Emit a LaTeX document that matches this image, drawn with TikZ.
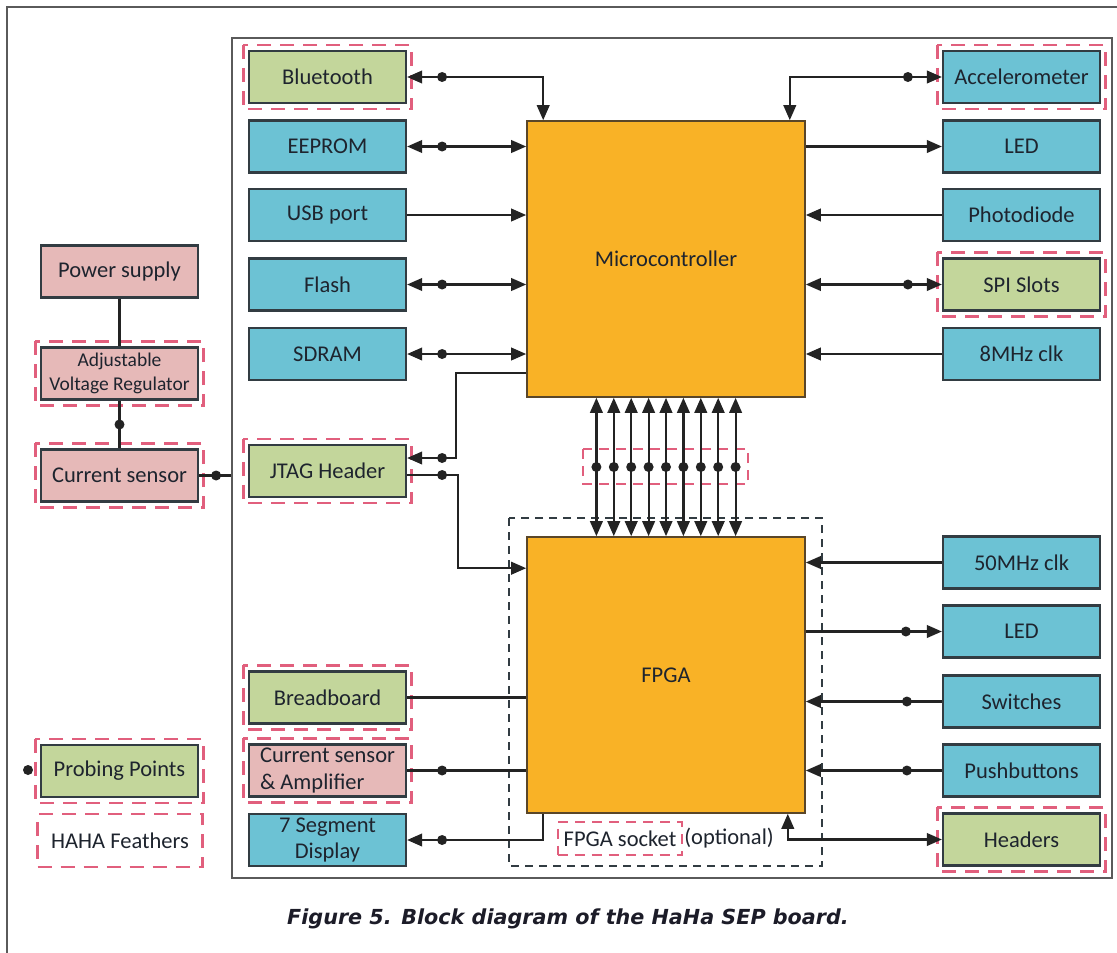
\documentclass[tikz,border=0pt]{standalone}
\usepackage{fontspec}
\setmainfont{Carlito}
\newfontfamily\capfont{DejaVu Sans}
\usetikzlibrary{arrows.meta,calc}
\definecolor{bluef}{RGB}{108,194,212}
\definecolor{greenf}{RGB}{195,214,155}
\definecolor{pinkf}{RGB}{230,185,184}
\definecolor{orangef}{RGB}{249,178,38}
\definecolor{boxline}{RGB}{50,60,66}
\definecolor{chipline}{RGB}{90,70,40}
\definecolor{pinkd}{RGB}{225,95,125}
\definecolor{txt}{RGB}{30,36,46}
\definecolor{lnc}{RGB}{35,35,35}
\definecolor{frame}{RGB}{90,90,90}
\definecolor{capc}{RGB}{28,28,40}
\begin{document}
\begin{tikzpicture}[x=1pt,y=-1pt,
  >={Triangle[length=15pt,width=12.5pt]},
  box/.style={draw=boxline, line width=2.2pt, minimum width=157pt, minimum height=52pt,
    inner sep=1pt, align=center, text=txt, font=\fontsize{22.5}{26}\selectfont},
  bbox/.style={box, fill=bluef},
  gbox/.style={box, fill=greenf},
  pbox/.style={box, fill=pinkf},
  chip/.style={draw=chipline, line width=1.6pt, fill=orangef, minimum width=278pt,
    minimum height=276pt, text=txt, font=\fontsize{22.5}{26}\selectfont},
  conn/.style={draw=lnc, line width=2.2pt},
  dotr/.style={fill=lnc},
  pinkdash/.style={draw=pinkd, line width=2.3pt, dash pattern=on 14pt off 9pt},
  sockdash/.style={draw=boxline, line width=1.6pt, dash pattern=on 8pt off 6pt}]
\useasboundingbox (0,0) rectangle (1117,953);
\fill[white] (0,0) rectangle (1117,953);
% outer frame
\draw[frame, line width=1.5pt] (7,953) -- (7,7) -- (1117,7);
% board
\node[draw=frame, line width=2pt, minimum width=880pt, minimum height=840pt] (board) at (672,458) {};
% FPGA socket region
\draw[sockdash] (509,518) rectangle (822,866);
% bus pink region
\draw[pinkdash, line width=1.8pt, dash pattern=on 10pt off 7pt] (583,449) rectangle (748,484);

% chips
\node[chip] (mc) at (666,259) {Microcontroller};
\node[chip] (fp) at (666,675) {FPGA};

% left column
\node[gbox] (bt)  at (327.5,77)    {Bluetooth};
\node[bbox] (ee)  at (327.5,146.5) {EEPROM};
\node[bbox] (usb) at (327.5,215)   {USB port};
\node[bbox] (fl)  at (327.5,284.5) {Flash};
\node[bbox] (sd)  at (327.5,354)   {SDRAM};
\node[gbox] (jt)  at (327.5,471)   {JTAG Header};
\node[gbox] (bb)  at (327.5,697.5) {Breadboard};
\node[pbox, align=left, font=\fontsize{22.5}{26.5}\selectfont] (csa) at (327.5,770.5) {Current sensor\\\& Amplifier};
\node[bbox, font=\fontsize{22.5}{26.5}\selectfont] (seg) at (327.5,840) {7 Segment\\Display};

% right column
\node[bbox] (acc)   at (1021.5,77)    {Accelerometer};
\node[bbox] (led1)  at (1021.5,146.5) {LED};
\node[bbox] (pd)    at (1021.5,215)   {Photodiode};
\node[gbox] (spi)   at (1021.5,284.5) {SPI Slots};
\node[bbox] (clk8)  at (1021.5,354)   {8MHz clk};
\node[bbox] (clk50) at (1021.5,562.5) {50MHz clk};
\node[bbox] (led2)  at (1021.5,631.5) {LED};
\node[bbox] (sw)    at (1021.5,701.5) {Switches};
\node[bbox] (pb)    at (1021.5,770.5) {Pushbuttons};
\node[gbox] (hd)    at (1021.5,839.5) {Headers};

% legend / power column
\node[pbox] (ps)  at (119.5,271.5) {Power supply};
\node[pbox, font=\fontsize{19.5}{24}\selectfont] (avr) at (119.5,373.5) {Adjustable\\Voltage Regulator};
\node[pbox] (csl) at (119.5,475.5) {Current sensor};
\node[gbox] (pp)  at (119.5,771)   {Probing Points};
\node[pinkdash, minimum width=165pt, minimum height=53pt, text=txt,
      font=\fontsize{22.5}{26}\selectfont] (hf) at (120,840.5) {HAHA Feathers};
\fill[dotr] (28,770) circle (5pt);

% pink dashed surrounds
\foreach \n in {bt,acc,spi,jt,bb,csa,hd,avr,csl,pp}
  \draw[pinkdash] ([shift={(-4.5,-5)}]\n.north west) rectangle ([shift={(4.5,5)}]\n.south east);

% FPGA socket label
\node[draw=pinkd, line width=1.8pt, dash pattern=on 10pt off 7pt, text=txt,
      font=\fontsize{22.5}{26}\selectfont, minimum height=33pt, inner xsep=6pt] (sock) at (620,838.5) {FPGA socket};
\node[text=txt, font=\fontsize{22.5}{26}\selectfont, anchor=west, inner xsep=1pt] (opt) at (sock.east) {(optional)};

% microcontroller left connections
\draw[conn,<->] (bt.east) -| ([xshift=17pt]mc.north west);
\fill[dotr] ([xshift=35pt]bt.east) circle (5pt);
\draw[conn,<->] (ee.east) -- (ee.east -| mc.west);
\fill[dotr] ([xshift=35pt]ee.east) circle (5pt);
\draw[conn,->] (usb.east) -- (usb.east -| mc.west);
\draw[conn,<->] (fl.east) -- (fl.east -| mc.west);
\fill[dotr] ([xshift=35pt]fl.east) circle (5pt);
\draw[conn,<->] (sd.east) -- (sd.east -| mc.west);
\fill[dotr] ([xshift=35pt]sd.east) circle (5pt);

% JTAG
\draw[conn,->] ([yshift=25pt]mc.south west) -- ++(-70,0) |- ([yshift=13pt]jt.east);
\fill[dotr] ([xshift=35pt,yshift=13pt]jt.east) circle (5pt);
\draw[conn,->] ([yshift=-4pt]jt.east) -- ++(51,0) |- ([yshift=-32pt]fp.north west);
\fill[dotr] ([xshift=35pt,yshift=-4pt]jt.east) circle (5pt);

% microcontroller right connections
\draw[conn,<->] (acc.west) -| ([xshift=-16pt]mc.north east);
\fill[dotr] ([xshift=-34pt]acc.west) circle (5pt);
\draw[conn,->] (led1.west -| mc.east) -- (led1.west);
\draw[conn,->] (pd.west) -- (pd.west -| mc.east);
\draw[conn,<->] (spi.west) -- (spi.west -| mc.east);
\fill[dotr] ([xshift=-34pt]spi.west) circle (5pt);
\draw[conn,->] (clk8.west) -- (clk8.west -| mc.east);

% FPGA right connections
\draw[conn,->] (clk50.west) -- (clk50.west -| fp.east);
\draw[conn,->] (led2.west -| fp.east) -- (led2.west);
\fill[dotr] ([xshift=-36pt]led2.west) circle (5pt);
\draw[conn,->] (sw.west) -- (sw.west -| fp.east);
\fill[dotr] ([xshift=-35pt]sw.west) circle (5pt);
\draw[conn,->] (pb.west) -- (pb.west -| fp.east);
\fill[dotr] ([xshift=-35pt]pb.west) circle (5pt);
\draw[conn,<->] ([xshift=-18pt]fp.south east) |- (hd.west);

% FPGA left connections
\draw[conn] (bb.east) -- (bb.east -| fp.west);
\draw[conn] (csa.east) -- (csa.east -| fp.west);
\fill[dotr] ([xshift=35pt]csa.east) circle (5pt);
\draw[conn,->] ([xshift=17pt]fp.south west) |- (seg.east);
\fill[dotr] ([xshift=35pt]seg.east) circle (5pt);

% bus
\foreach \i in {-4,...,4} {
  \draw[conn,<->] ([xshift=\i*17.4pt]mc.south) -- ([xshift=\i*17.4pt]fp.north);
  \fill[dotr] ($([xshift=\i*17.4pt]mc.south)!0.5!([xshift=\i*17.4pt]fp.north)$) circle (5pt);
}

% power chain
\draw[conn] (ps) -- (avr);
\draw[conn] (avr) -- (csl);
\fill[dotr] ($(avr.south)!0.5!(csl.north)$) circle (5pt);
\draw[conn] (csl.east) -- (csl.east -| board.west);
\fill[dotr] ([xshift=17pt]csl.east) circle (5pt);

% caption
\node[text=capc, font={\capfont\fontsize{20.7}{24}\selectfont\bfseries\itshape}] (cap) at (568,919)
  {Figure 5. Block diagram of the HaHa SEP board.};
\end{tikzpicture}
\end{document}
